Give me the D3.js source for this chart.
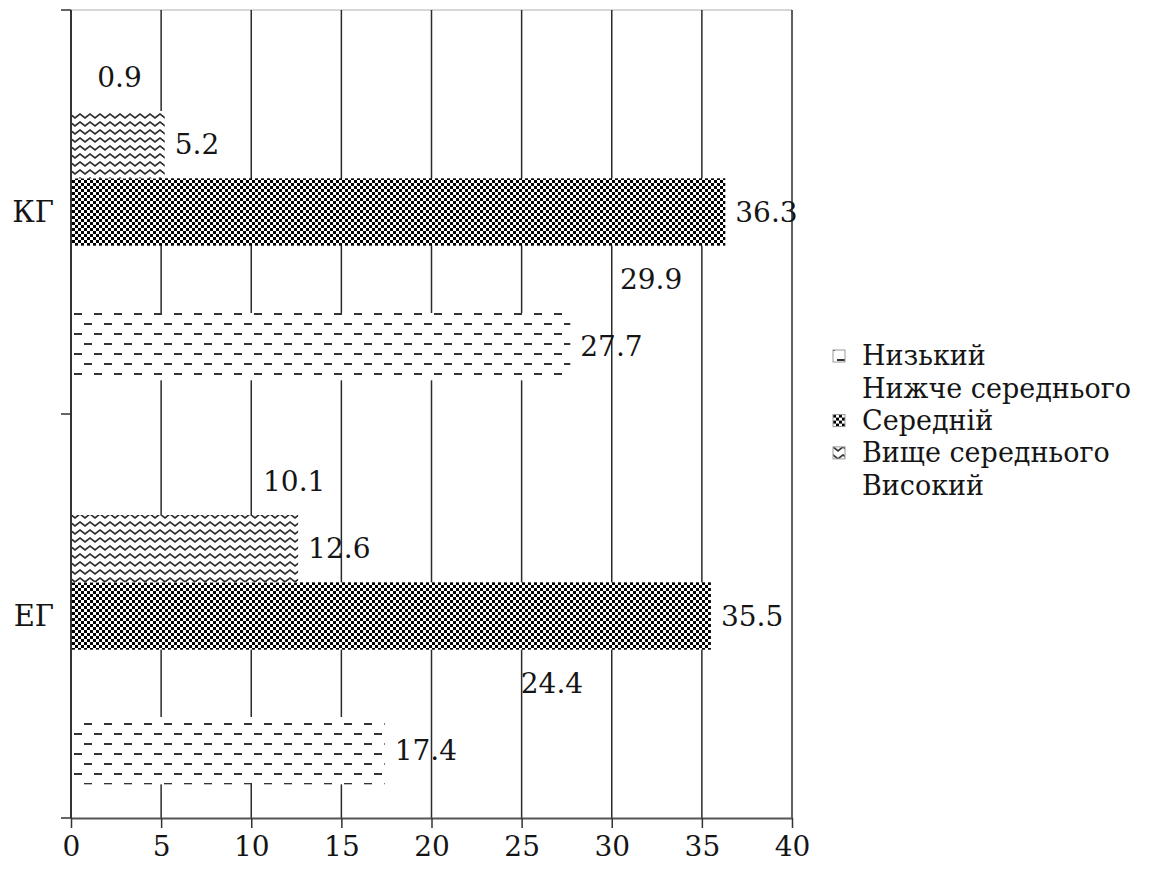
<!DOCTYPE html>
<html>
<head>
<meta charset="utf-8">
<script src="https://cdn.jsdelivr.net/npm/d3@7/dist/d3.min.js"></script>
<style>
  html, body { margin: 0; padding: 0; background: #fff; }
  svg { display: block; }
  svg text { font-family: 'DejaVu Serif'; fill: #151515; }
</style>
</head>
<body>
<svg id="chart" width="1169" height="870"></svg>
<script>
// Groups, levels and percentages
const categories = ["КГ", "ЕГ"];
const levels = ["Низький", "Нижче середнього", "Середній", "Вище середнього", "Високий"];
const kgValues = [27.7, 29.9, 36.3, 5.2, 0.9];
const egValues = [17.4, 24.4, 35.5, 12.6, 10.1];
const xTicks = [0, 5, 10, 15, 20, 25, 30, 35, 40];

const valuesByGroup = { "КГ": kgValues, "ЕГ": egValues };

const svg = d3.select("#chart");
const plot = { left: 71, right: 792, top: 10, bottom: 818 };
const fontSize = 28;

// Fill patterns for each level
const defs = svg.append("defs");

const dash = defs.append("pattern").attr("id", "pat-dash")
  .attr("patternUnits", "userSpaceOnUse").attr("width", 20).attr("height", 20);
dash.append("rect").attr("width", 20).attr("height", 20).attr("fill", "#fff");
dash.append("rect").attr("x", 4).attr("y", 3).attr("width", 8).attr("height", 2).attr("fill", "#333");
dash.append("rect").attr("x", 14).attr("y", 13).attr("width", 8).attr("height", 2).attr("fill", "#333");
dash.append("rect").attr("x", -6).attr("y", 13).attr("width", 8).attr("height", 2).attr("fill", "#333");

const checker = defs.append("pattern").attr("id", "pat-checker")
  .attr("patternUnits", "userSpaceOnUse").attr("width", 6).attr("height", 6);
checker.append("rect").attr("width", 6).attr("height", 6).attr("fill", "#fff");
checker.append("rect").attr("width", 3).attr("height", 3).attr("fill", "#000");
checker.append("rect").attr("x", 3).attr("y", 3).attr("width", 3).attr("height", 3).attr("fill", "#000");

const zigzag = defs.append("pattern").attr("id", "pat-zigzag")
  .attr("patternUnits", "userSpaceOnUse").attr("width", 10).attr("height", 8);
zigzag.append("rect").attr("width", 10).attr("height", 8).attr("fill", "#fff");
zigzag.append("polyline").attr("points", "-5,6 0,2 5,6 10,2 15,6")
  .attr("fill", "none").attr("stroke", "#2a2a2a").attr("stroke-width", 1.7)
  .attr("stroke-linejoin", "miter");

const fills = ["url(#pat-dash)", "none", "url(#pat-checker)", "url(#pat-zigzag)", "none"];

// Scales
const x = d3.scaleLinear().domain([0, 40]).range([plot.left, plot.right]);
const yGroup = d3.scaleBand().domain(categories).range([plot.top, plot.bottom]).padding(0);
const yLevel = d3.scaleBand().domain(levels.slice().reverse())
  .range([0, yGroup.bandwidth()]).paddingInner(0).paddingOuter(0.5);

// Plot border (top) and vertical gridlines
svg.append("line")
  .attr("x1", plot.left).attr("x2", plot.right)
  .attr("y1", plot.top).attr("y2", plot.top)
  .attr("stroke", "#c8c8c8").attr("stroke-width", 1.5);

svg.append("g").selectAll("line")
  .data(xTicks.filter(d => d > 0))
  .join("line")
  .attr("x1", d => x(d)).attr("x2", d => x(d))
  .attr("y1", plot.top).attr("y2", plot.bottom)
  .attr("stroke", "#2b2b2b").attr("stroke-width", 1.5);

// Bars
const rows = [];
categories.forEach(c => levels.forEach((l, i) => rows.push({ group: c, level: l, i, value: valuesByGroup[c][i] })));

svg.append("g").selectAll("rect")
  .data(rows)
  .join("rect")
  .attr("x", x(0))
  .attr("y", d => yGroup(d.group) + yLevel(d.level))
  .attr("width", d => x(d.value) - x(0))
  .attr("height", yLevel.bandwidth())
  .attr("fill", d => fills[d.i]);

// Value labels
svg.append("g").selectAll("text")
  .data(rows)
  .join("text")
  .attr("x", d => x(d.value) + 10)
  .attr("y", d => yGroup(d.group) + yLevel(d.level) + yLevel.bandwidth() / 2)
  .attr("dy", "0.35em")
  .attr("font-size", fontSize)
  .text(d => d.value.toFixed(1));

// X axis
const xAxis = svg.append("g")
  .attr("transform", `translate(0,${plot.bottom})`)
  .call(d3.axisBottom(x).tickValues(xTicks).tickSize(10).tickPadding(8).tickSizeOuter(0))
  .attr("font-family", null);
xAxis.select(".domain").attr("stroke", "#555").attr("stroke-width", 2);
xAxis.selectAll(".tick line").attr("stroke", "#333").attr("stroke-width", 1.5);
xAxis.selectAll(".tick text")
  .attr("font-size", fontSize).attr("fill", "#151515");

// Y axis with ticks on group boundaries
const yAxis = svg.append("g").attr("transform", `translate(${plot.left},0)`);
yAxis.append("line")
  .attr("x1", 0).attr("x2", 0).attr("y1", plot.top).attr("y2", plot.bottom)
  .attr("stroke", "#333").attr("stroke-width", 2);
const boundaries = [plot.top].concat(categories.map(c => yGroup(c) + yGroup.bandwidth()));
yAxis.selectAll("line.tick")
  .data(boundaries)
  .join("line").attr("class", "tick")
  .attr("x1", -10).attr("x2", 0)
  .attr("y1", d => d).attr("y2", d => d)
  .attr("stroke", "#333").attr("stroke-width", 1.5);
yAxis.selectAll("text")
  .data(categories)
  .join("text")
  .attr("x", -17)
  .attr("y", d => yGroup(d) + yGroup.bandwidth() / 2)
  .attr("dy", "0.35em")
  .attr("text-anchor", "end")
  .attr("font-size", 29)
  .text(d => d);

// Legend
const legend = svg.append("g").attr("transform", "translate(833,356)");
const item = legend.selectAll("g")
  .data(levels)
  .join("g")
  .attr("transform", (d, i) => `translate(0,${i * 32.3})`);
item.filter((d, i) => fills[i] !== "none")
  .append("rect")
  .attr("x", 0).attr("y", -6).attr("width", 12).attr("height", 12)
  .attr("fill", (d, i) => fills[levels.indexOf(d)])
  .attr("stroke", "#999").attr("stroke-width", 1);
item.append("text")
  .attr("x", 29).attr("dy", "0.35em")
  .attr("font-size", 27)
  .text(d => d);
</script>
</body>
</html>
